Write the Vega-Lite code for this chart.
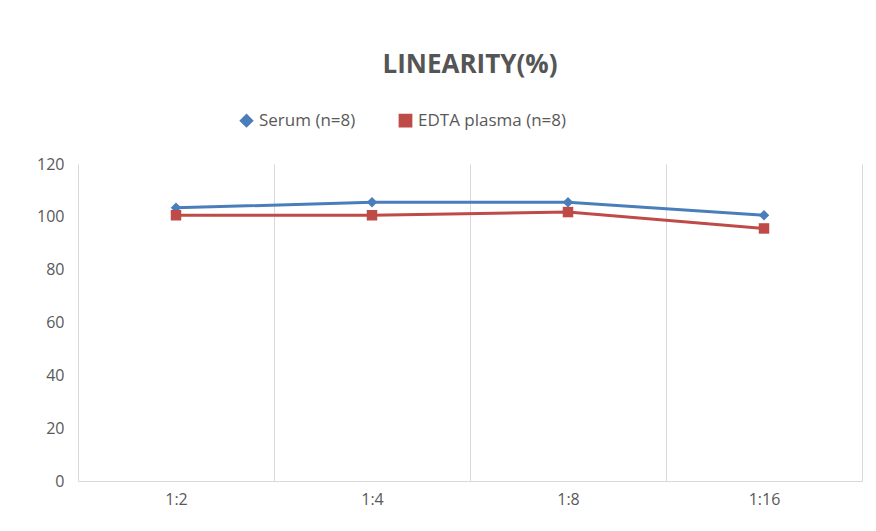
{
  "$schema": "https://vega.github.io/schema/vega-lite/v6.json",
  "width": 876, "height": 531,
  "autosize": {"type": "fit", "contains": "padding"},
  "padding": {"left": 36, "right": 14, "top": 52, "bottom": 24},
  "background": "white",
  "config": {"view": {"stroke": null}, "font": "Open Sans"},
  "title": {"text": "LINEARITY(%)", "fontSize": 26, "fontWeight": "bold", "color": "#555555", "letterSpacing": 2, "offset": 78},
  "data": {"values": [
    {"d": "1:2", "s": "Serum (n=8)", "v": 103.4},
    {"d": "1:4", "s": "Serum (n=8)", "v": 105.5},
    {"d": "1:8", "s": "Serum (n=8)", "v": 105.5},
    {"d": "1:16", "s": "Serum (n=8)", "v": 100.6},
    {"d": "1:2", "s": "EDTA plasma (n=8)", "v": 100.6},
    {"d": "1:4", "s": "EDTA plasma (n=8)", "v": 100.6},
    {"d": "1:8", "s": "EDTA plasma (n=8)", "v": 101.8},
    {"d": "1:16", "s": "EDTA plasma (n=8)", "v": 95.6}
  ]},
  "mark": {"type": "line", "strokeWidth": 3, "point": {"filled": true, "size": 110}},
  "encoding": {
    "x": {"field": "d", "type": "nominal", "sort": ["1:2", "1:4", "1:8", "1:16"], "title": null,
      "scale": {"paddingInner": 0, "paddingOuter": 0},
      "axis": {"labelAngle": 0, "labelFontSize": 16, "labelColor": "#595959", "grid": true, "gridColor": "#d9d9d9", "tickBand": "extent", "ticks": false, "domainColor": "#d9d9d9", "labelPadding": 10}},
    "y": {"field": "v", "type": "quantitative", "title": null, "scale": {"domain": [0, 120]},
      "axis": {"values": [0,20,40,60,80,100,120], "labelOverlap": false, "grid": false, "domain": false, "ticks": false, "labelFontSize": 16, "labelColor": "#595959", "labelPadding": 14}},
    "color": {"field": "s", "type": "nominal", "sort": ["Serum (n=8)", "EDTA plasma (n=8)"], "scale": {"range": ["#4a7ebb", "#be4b48"]},
      "legend": {"orient": "none", "direction": "horizontal", "legendX": 160, "legendY": -52, "title": null, "labelFontSize": 17, "labelColor": "#595959", "symbolSize": 150, "columnPadding": 40,
        "encode": {"symbols": {"update": {"shape": {"signal": "datum.value == 'Serum (n=8)' ? 'diamond' : 'square'"}}}}}},
    "shape": {"field": "s", "type": "nominal", "sort": ["Serum (n=8)", "EDTA plasma (n=8)"], "scale": {"range": ["diamond", "square"]}, "legend": null}
  }
}
